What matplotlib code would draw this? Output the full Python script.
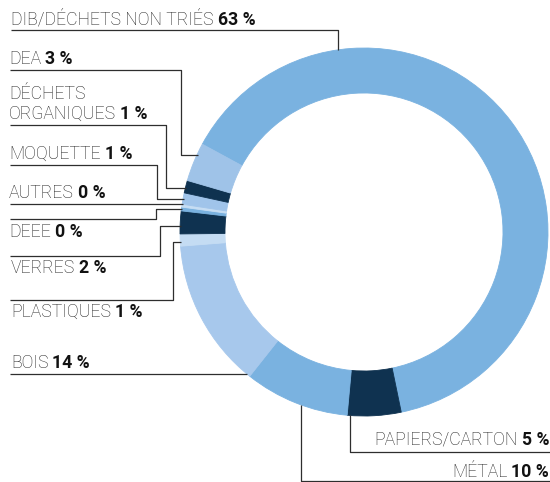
import matplotlib.pyplot as plt
import numpy as np

plt.rcParams['font.family'] = ['Roboto', 'DejaVu Sans']

# slices, clockwise from the upper left
names = ["DIB/DÉCHETS NON TRIÉS", "PAPIERS/CARTON", "MÉTAL", "BOIS", "PLASTIQUES",
         "VERRES", "DEEE", "AUTRES", "MOQUETTE", "DÉCHETS\nORGANIQUES", "DEA"]
shares = [63.8, 4.7, 9.2, 13.1, 1.06, 2.0, 0.33, 0.25, 1.0, 1.1, 3.4]
pct_text = ["63 %", "5 %", "10 %", "14 %", "1 %", "2 %", "0 %", "0 %", "1 %", "1 %", "3 %"]
colors = ["#7ab2e0", "#0f3250", "#7ab2e0", "#a7c8ec", "#c4dcf3", "#0f3250",
          "#7ab2e0", "#c6ddf3", "#a0c4ea", "#0f3250", "#9fc3e8"]

W, H = 550, 482
cx, cy, R, ring = 364, H - 232, 184, 45

fig = plt.figure(figsize=(W / 100, H / 100), dpi=100)
ax = fig.add_axes([0, 0, 1, 1])

wedges, _ = ax.pie(shares, colors=colors, startangle=151.5, counterclock=False,
                   radius=R, center=(cx, cy),
                   wedgeprops=dict(width=ring, linewidth=0.6))
for w in wedges:
    w.set_edgecolor(w.get_facecolor())
ax.set_xlim(0, W)
ax.set_ylim(0, H)
ax.set_aspect('equal')
ax.axis('off')

def Y(y):
    return H - y

def edge_x(y):
    # left side of outer circle at pixel row y
    dy = cy - Y(y)
    return cx - np.sqrt(R ** 2 - dy ** 2)

def edge_y(x):
    dx = x - cx
    return np.sqrt(R ** 2 - dx ** 2)

FS = 12.7
line_kw = dict(color='#2e2e2e', lw=0.9, solid_capstyle='butt')
txt_kw = dict(fontsize=FS, va='baseline', color='#222222', fontweight='light')
pct_kw = dict(fontsize=FS, va='baseline', color='#111111', fontweight='bold')
renderer = fig.canvas.get_renderer()

def put_label(x, y, name, pct, ha='left'):
    lines = name.split('\n')
    for k, ln in enumerate(lines[:-1]):
        ax.text(x, Y(y) + 20 * (len(lines) - 1 - k), ln, ha=ha, **txt_kw)
    last = lines[-1]
    if ha == 'left':
        t = ax.text(x, Y(y), last, ha='left', **txt_kw)
        bb = t.get_window_extent(renderer)
        ax.text(bb.x1 + 4, Y(y), pct, ha='left', **pct_kw)
    else:
        t = ax.text(x, Y(y), pct, ha='right', **pct_kw)
        bb = t.get_window_extent(renderer)
        ax.text(bb.x0 - 4, Y(y), last, ha='right', **txt_kw)

# label position (x, baseline) and leader path in pixels from the top-left
put_label(11, 25, names[0], pct_text[0])
ax.plot([11, 338, 338], [Y(30), Y(30), cy + edge_y(338)], **line_kw)

put_label(549, 445, names[1], pct_text[1], ha='right')
ax.plot([550, 350, 350], [Y(452), Y(452), cy - edge_y(350)], **line_kw)

put_label(549, 477, names[2], pct_text[2], ha='right')
ax.plot([550, 301, 301], [Y(481), Y(481), cy - edge_y(301)], **line_kw)

put_label(11, 368, names[3], pct_text[3])
ax.plot([10, edge_x(374)], [Y(374), Y(374)], **line_kw)

elbows = [
    (4, 11, 317, 300, 173, 242),
    (5, 11, 273, 256, 160, 226),
    (6, 9, 237, 219, 156, 209),
    (8, 9, 159, 165, 157, 199),
    (9, 9, 119, 125, 166, 188),
    (10, 9, 64, 70, 181, 155),
]
for i, tx, ty, ly, ex, ay in elbows:
    put_label(tx, ty, names[i], pct_text[i])
    ax.plot([10, ex, ex, edge_x(ay) + 1],
            [Y(ly), Y(ly), Y(ay), Y(ay)], **line_kw)

put_label(9, 198, names[7], pct_text[7])
ax.plot([10, edge_x(204) + 1], [Y(204), Y(204)], **line_kw)

fig.savefig("out.png", dpi=100)
